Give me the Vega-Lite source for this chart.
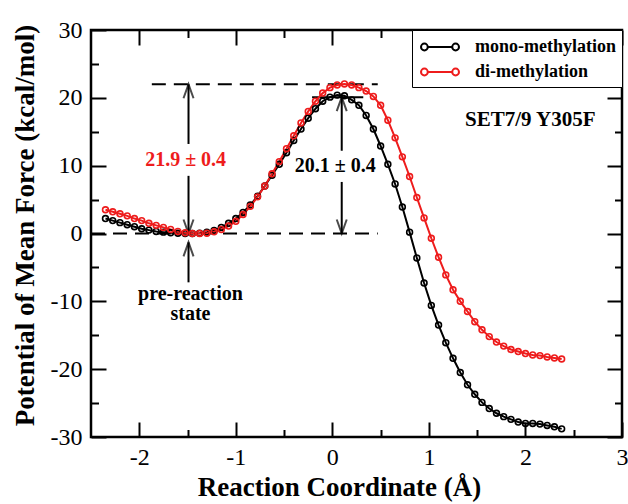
{
  "$schema": "https://vega.github.io/schema/vega-lite/v6.json",
  "width": 531,
  "height": 407,
  "autosize": {"type": "none"},
  "padding": {"left": 91, "top": 30, "right": 6, "bottom": 67},
  "config": {
    "view": {"stroke": "#000", "strokeWidth": 2.5},
    "font": "Liberation Serif",
    "axis": {"grid": false, "domain": false, "ticks": true, "tickColor": "#000", "tickWidth": 2, "labelFont": "Liberation Serif", "labelFontSize": 24, "labelColor": "#000", "titleFont": "Liberation Serif", "titleFontSize": 27, "titleFontWeight": "bold", "titleColor": "#000", "labelFlush": false, "labelOverlap": false}
  },
  "datasets": {
    "curves": [
      {"x": -2.35, "y": 2.2, "s": "mono-methylation"}, {"x": -2.275, "y": 1.9, "s": "mono-methylation"}, {"x": -2.2, "y": 1.6, "s": "mono-methylation"}, {"x": -2.125, "y": 1.3, "s": "mono-methylation"}, {"x": -2.05, "y": 1.0, "s": "mono-methylation"}, {"x": -1.975, "y": 0.7, "s": "mono-methylation"}, {"x": -1.9, "y": 0.5, "s": "mono-methylation"}, {"x": -1.825, "y": 0.3, "s": "mono-methylation"}, {"x": -1.75, "y": 0.2, "s": "mono-methylation"}, {"x": -1.675, "y": 0.1, "s": "mono-methylation"}, {"x": -1.6, "y": 0.05, "s": "mono-methylation"}, {"x": -1.525, "y": 0.0, "s": "mono-methylation"}, {"x": -1.45, "y": 0.0, "s": "mono-methylation"}, {"x": -1.375, "y": 0.05, "s": "mono-methylation"}, {"x": -1.3, "y": 0.2, "s": "mono-methylation"}, {"x": -1.225, "y": 0.45, "s": "mono-methylation"}, {"x": -1.15, "y": 0.9, "s": "mono-methylation"}, {"x": -1.075, "y": 1.5, "s": "mono-methylation"}, {"x": -1.0, "y": 2.2, "s": "mono-methylation"}, {"x": -0.925, "y": 3.1, "s": "mono-methylation"}, {"x": -0.85, "y": 4.2, "s": "mono-methylation"}, {"x": -0.775, "y": 5.5, "s": "mono-methylation"}, {"x": -0.7, "y": 7.0, "s": "mono-methylation"}, {"x": -0.625, "y": 8.6, "s": "mono-methylation"}, {"x": -0.55, "y": 10.2, "s": "mono-methylation"}, {"x": -0.475, "y": 11.9, "s": "mono-methylation"}, {"x": -0.4, "y": 13.7, "s": "mono-methylation"}, {"x": -0.325, "y": 15.4, "s": "mono-methylation"}, {"x": -0.25, "y": 17.0, "s": "mono-methylation"}, {"x": -0.175, "y": 18.4, "s": "mono-methylation"}, {"x": -0.1, "y": 19.5, "s": "mono-methylation"}, {"x": -0.025, "y": 20.1, "s": "mono-methylation"}, {"x": 0.05, "y": 20.4, "s": "mono-methylation"}, {"x": 0.125, "y": 20.3, "s": "mono-methylation"}, {"x": 0.2, "y": 19.7, "s": "mono-methylation"}, {"x": 0.275, "y": 18.9, "s": "mono-methylation"}, {"x": 0.35, "y": 17.4, "s": "mono-methylation"}, {"x": 0.425, "y": 15.4, "s": "mono-methylation"}, {"x": 0.5, "y": 12.9, "s": "mono-methylation"}, {"x": 0.575, "y": 10.2, "s": "mono-methylation"}, {"x": 0.65, "y": 7.3, "s": "mono-methylation"}, {"x": 0.725, "y": 3.9, "s": "mono-methylation"}, {"x": 0.8, "y": 0.2, "s": "mono-methylation"}, {"x": 0.875, "y": -3.6, "s": "mono-methylation"}, {"x": 0.95, "y": -7.3, "s": "mono-methylation"}, {"x": 1.025, "y": -10.6, "s": "mono-methylation"}, {"x": 1.1, "y": -13.5, "s": "mono-methylation"}, {"x": 1.175, "y": -16.1, "s": "mono-methylation"}, {"x": 1.25, "y": -18.4, "s": "mono-methylation"}, {"x": 1.325, "y": -20.5, "s": "mono-methylation"}, {"x": 1.4, "y": -22.3, "s": "mono-methylation"}, {"x": 1.475, "y": -23.7, "s": "mono-methylation"}, {"x": 1.55, "y": -24.9, "s": "mono-methylation"}, {"x": 1.625, "y": -25.8, "s": "mono-methylation"}, {"x": 1.7, "y": -26.5, "s": "mono-methylation"}, {"x": 1.775, "y": -27.0, "s": "mono-methylation"}, {"x": 1.85, "y": -27.4, "s": "mono-methylation"}, {"x": 1.925, "y": -27.8, "s": "mono-methylation"}, {"x": 2.0, "y": -28.0, "s": "mono-methylation"}, {"x": 2.075, "y": -28.0, "s": "mono-methylation"}, {"x": 2.15, "y": -28.1, "s": "mono-methylation"}, {"x": 2.225, "y": -28.3, "s": "mono-methylation"}, {"x": 2.3, "y": -28.5, "s": "mono-methylation"}, {"x": 2.375, "y": -28.8, "s": "mono-methylation"},
      {"x": -2.35, "y": 3.5, "s": "di-methylation"}, {"x": -2.275, "y": 3.2, "s": "di-methylation"}, {"x": -2.2, "y": 2.9, "s": "di-methylation"}, {"x": -2.125, "y": 2.6, "s": "di-methylation"}, {"x": -2.05, "y": 2.2, "s": "di-methylation"}, {"x": -1.975, "y": 1.9, "s": "di-methylation"}, {"x": -1.9, "y": 1.5, "s": "di-methylation"}, {"x": -1.825, "y": 1.2, "s": "di-methylation"}, {"x": -1.75, "y": 0.9, "s": "di-methylation"}, {"x": -1.675, "y": 0.6, "s": "di-methylation"}, {"x": -1.6, "y": 0.3, "s": "di-methylation"}, {"x": -1.525, "y": 0.1, "s": "di-methylation"}, {"x": -1.45, "y": 0.0, "s": "di-methylation"}, {"x": -1.375, "y": 0.0, "s": "di-methylation"}, {"x": -1.3, "y": 0.05, "s": "di-methylation"}, {"x": -1.225, "y": 0.25, "s": "di-methylation"}, {"x": -1.15, "y": 0.6, "s": "di-methylation"}, {"x": -1.075, "y": 1.1, "s": "di-methylation"}, {"x": -1.0, "y": 1.8, "s": "di-methylation"}, {"x": -0.925, "y": 2.8, "s": "di-methylation"}, {"x": -0.85, "y": 4.0, "s": "di-methylation"}, {"x": -0.775, "y": 5.4, "s": "di-methylation"}, {"x": -0.7, "y": 7.0, "s": "di-methylation"}, {"x": -0.625, "y": 8.8, "s": "di-methylation"}, {"x": -0.55, "y": 10.6, "s": "di-methylation"}, {"x": -0.475, "y": 12.5, "s": "di-methylation"}, {"x": -0.4, "y": 14.4, "s": "di-methylation"}, {"x": -0.325, "y": 16.3, "s": "di-methylation"}, {"x": -0.25, "y": 18.0, "s": "di-methylation"}, {"x": -0.175, "y": 19.5, "s": "di-methylation"}, {"x": -0.1, "y": 20.7, "s": "di-methylation"}, {"x": -0.025, "y": 21.5, "s": "di-methylation"}, {"x": 0.05, "y": 21.9, "s": "di-methylation"}, {"x": 0.125, "y": 22.05, "s": "di-methylation"}, {"x": 0.2, "y": 21.9, "s": "di-methylation"}, {"x": 0.275, "y": 21.5, "s": "di-methylation"}, {"x": 0.35, "y": 21.0, "s": "di-methylation"}, {"x": 0.425, "y": 20.2, "s": "di-methylation"}, {"x": 0.5, "y": 18.9, "s": "di-methylation"}, {"x": 0.575, "y": 16.7, "s": "di-methylation"}, {"x": 0.65, "y": 14.1, "s": "di-methylation"}, {"x": 0.725, "y": 11.3, "s": "di-methylation"}, {"x": 0.8, "y": 8.4, "s": "di-methylation"}, {"x": 0.875, "y": 5.3, "s": "di-methylation"}, {"x": 0.95, "y": 2.3, "s": "di-methylation"}, {"x": 1.025, "y": -0.7, "s": "di-methylation"}, {"x": 1.1, "y": -3.5, "s": "di-methylation"}, {"x": 1.175, "y": -6.1, "s": "di-methylation"}, {"x": 1.25, "y": -8.3, "s": "di-methylation"}, {"x": 1.325, "y": -10.0, "s": "di-methylation"}, {"x": 1.4, "y": -11.5, "s": "di-methylation"}, {"x": 1.475, "y": -13.0, "s": "di-methylation"}, {"x": 1.55, "y": -14.2, "s": "di-methylation"}, {"x": 1.625, "y": -15.2, "s": "di-methylation"}, {"x": 1.7, "y": -16.0, "s": "di-methylation"}, {"x": 1.775, "y": -16.6, "s": "di-methylation"}, {"x": 1.85, "y": -17.1, "s": "di-methylation"}, {"x": 1.925, "y": -17.4, "s": "di-methylation"}, {"x": 2.0, "y": -17.7, "s": "di-methylation"}, {"x": 2.075, "y": -17.9, "s": "di-methylation"}, {"x": 2.15, "y": -18.0, "s": "di-methylation"}, {"x": 2.225, "y": -18.2, "s": "di-methylation"}, {"x": 2.3, "y": -18.35, "s": "di-methylation"}, {"x": 2.375, "y": -18.5, "s": "di-methylation"}
    ],
    "dashed": [
      {"x": -2.5, "x2": 0.47, "y": 0},
      {"x": -1.87, "x2": 0.47, "y": 22}
    ],
    "solid": [
      {"x": -0.21, "x2": 0.32, "y": 20.1}
    ],
    "shafts": [
      {"x": -1.49, "y": 0, "y2": 8.5},
      {"x": -1.49, "y": 13.2, "y2": 22},
      {"x": 0.097, "y": 0, "y2": 7.6},
      {"x": 0.097, "y": 12.2, "y2": 20.1},
      {"x": -1.49, "y": -7.2, "y2": -1.3}
    ],
    "upheads": [
      {"x": -1.49, "y": 22},
      {"x": 0.097, "y": 20.1},
      {"x": -1.49, "y": -1.3}
    ],
    "downheads": [
      {"x": -1.49, "y": 0},
      {"x": 0.097, "y": 0}
    ],
    "redlabel": [{"x": -1.52, "y": 10.8, "t": "21.9 ± 0.4"}],
    "blacklabel": [{"x": 0.03, "y": 10.0, "t": "20.1 ± 0.4"}],
    "prelabel": [{"x": -1.47, "y": -8.9, "t": "pre-reaction\nstate"}],
    "setlabel": [{"x": 2.05, "y": 16.7, "t": "SET7/9 Y305F"}]
  },
  "resolve": {"axis": {"x": "independent", "y": "independent"}},
  "layer": [
    {
      "data": {"name": "dashed"},
      "mark": {"type": "rule", "color": "#000", "strokeWidth": 2, "strokeDash": [14, 8]},
      "encoding": {
        "x": {"field": "x", "type": "quantitative", "scale": {"domain": [-2.5, 3], "nice": false, "zero": false}, "axis": {"orient": "bottom", "values": [-1.5, -0.5, 0.5, 1.5, 2.5], "offset": -7.5, "tickSize": 7.5, "labels": false, "title": null}},
        "x2": {"field": "x2"},
        "y": {"field": "y", "type": "quantitative", "scale": {"domain": [-30, 30], "nice": false, "zero": false}, "axis": {"orient": "left", "values": [-25, -15, -5, 5, 15, 25], "offset": -7.5, "tickSize": 7.5, "labels": false, "title": null}}
      }
    },
    {
      "data": {"name": "solid"},
      "mark": {"type": "rule", "color": "#000", "strokeWidth": 2},
      "encoding": {
        "x": {"field": "x", "type": "quantitative", "scale": {"domain": [-2.5, 3], "nice": false, "zero": false}, "axis": {"orient": "top", "values": [-2, -1, 0, 1, 2, 3], "offset": -15, "tickSize": 15, "labels": false, "title": null}},
        "x2": {"field": "x2"},
        "y": {"field": "y", "type": "quantitative", "scale": {"domain": [-30, 30], "nice": false, "zero": false}, "axis": {"orient": "right", "values": [-30, -20, -10, 0, 10, 20, 30], "offset": -15, "tickSize": 15, "labels": false, "title": null}}
      }
    },
    {
      "data": {"name": "shafts"},
      "mark": {"type": "rule", "color": "#000", "strokeWidth": 2},
      "encoding": {
        "x": {"field": "x", "type": "quantitative", "scale": {"domain": [-2.5, 3], "nice": false, "zero": false}, "axis": {"orient": "top", "values": [-1.5, -0.5, 0.5, 1.5, 2.5], "offset": -7.5, "tickSize": 7.5, "labels": false, "title": null}},
        "y": {"field": "y", "type": "quantitative", "scale": {"domain": [-30, 30], "nice": false, "zero": false}, "axis": {"orient": "right", "values": [-25, -15, -5, 5, 15, 25], "offset": -7.5, "tickSize": 7.5, "labels": false, "title": null}},
        "y2": {"field": "y2"}
      }
    },
    {
      "data": {"name": "upheads"},
      "mark": {"type": "point", "shape": "M-0.5,1.4L0,0L0.5,1.4", "size": 400, "filled": false, "color": "#000", "strokeWidth": 2},
      "encoding": {
        "x": {"field": "x", "type": "quantitative", "scale": {"domain": [-2.5, 3], "nice": false, "zero": false}, "axis": null},
        "y": {"field": "y", "type": "quantitative", "scale": {"domain": [-30, 30], "nice": false, "zero": false}, "axis": null}
      }
    },
    {
      "data": {"name": "downheads"},
      "mark": {"type": "point", "shape": "M-0.5,-1.4L0,0L0.5,-1.4", "size": 400, "filled": false, "color": "#000", "strokeWidth": 2},
      "encoding": {
        "x": {"field": "x", "type": "quantitative", "scale": {"domain": [-2.5, 3], "nice": false, "zero": false}, "axis": null},
        "y": {"field": "y", "type": "quantitative", "scale": {"domain": [-30, 30], "nice": false, "zero": false}, "axis": null}
      }
    },
    {
      "data": {"name": "curves"},
      "mark": {"type": "line", "strokeWidth": 2, "point": {"filled": false, "size": 34, "strokeWidth": 1.6}},
      "encoding": {
        "x": {"field": "x", "type": "quantitative", "scale": {"domain": [-2.5, 3], "nice": false, "zero": false}, "axis": {"orient": "bottom", "values": [-2, -1, 0, 1, 2, 3], "offset": -15, "tickSize": 15, "labelPadding": 8, "labelExpr": "'' + datum.value", "title": "Reaction Coordinate (Å)", "titleX": 248, "titleY": 73, "titleAlign": "center", "titleBaseline": "alphabetic"}},
        "y": {"field": "y", "type": "quantitative", "scale": {"domain": [-30, 30], "nice": false, "zero": false}, "axis": {"orient": "left", "values": [-30, -20, -10, 0, 10, 20, 30], "offset": -15, "tickSize": 15, "labelPadding": 9, "labelExpr": "'' + datum.value", "title": "Potential of Mean Force (kcal/mol)", "titleX": -81, "titleY": 195, "titleAlign": "center", "titleBaseline": "middle", "titleAngle": -90}},
        "color": {
          "field": "s", "type": "nominal",
          "scale": {"domain": ["mono-methylation", "di-methylation"], "range": ["#000000", "#ee1c1c"]},
          "legend": {"title": null, "orient": "top-right", "offset": 0, "padding": 6, "strokeColor": "#000", "fillColor": "#fff", "labelFont": "Liberation Serif", "labelFontSize": 18, "labelFontWeight": "bold", "labelColor": "#000", "symbolType": "M-1.9,0A0.34,0.34 0 1,1 -1.22,0A0.34,0.34 0 1,1 -1.9,0M-1.22,0L1.22,0M1.22,0A0.34,0.34 0 1,1 1.9,0A0.34,0.34 0 1,1 1.22,0", "symbolSize": 400, "symbolStrokeWidth": 2, "symbolFillColor": "#fff", "symbolOffset": 11, "labelOffset": 24, "rowPadding": 5}
        }
      }
    },
    {
      "data": {"name": "redlabel"},
      "mark": {"type": "text", "font": "Liberation Serif", "fontSize": 20, "fontWeight": "bold", "color": "#ee1c1c", "align": "center", "baseline": "middle"},
      "encoding": {
        "x": {"field": "x", "type": "quantitative", "scale": {"domain": [-2.5, 3], "nice": false, "zero": false}, "axis": null},
        "y": {"field": "y", "type": "quantitative", "scale": {"domain": [-30, 30], "nice": false, "zero": false}, "axis": null},
        "text": {"field": "t"}
      }
    },
    {
      "data": {"name": "blacklabel"},
      "mark": {"type": "text", "font": "Liberation Serif", "fontSize": 20, "fontWeight": "bold", "color": "#000", "align": "center", "baseline": "middle"},
      "encoding": {
        "x": {"field": "x", "type": "quantitative", "scale": {"domain": [-2.5, 3], "nice": false, "zero": false}, "axis": null},
        "y": {"field": "y", "type": "quantitative", "scale": {"domain": [-30, 30], "nice": false, "zero": false}, "axis": null},
        "text": {"field": "t"}
      }
    },
    {
      "data": {"name": "prelabel"},
      "mark": {"type": "text", "font": "Liberation Serif", "fontSize": 20, "fontWeight": "bold", "color": "#000", "align": "center", "baseline": "middle", "lineBreak": "\n", "lineHeight": 20},
      "encoding": {
        "x": {"field": "x", "type": "quantitative", "scale": {"domain": [-2.5, 3], "nice": false, "zero": false}, "axis": null},
        "y": {"field": "y", "type": "quantitative", "scale": {"domain": [-30, 30], "nice": false, "zero": false}, "axis": null},
        "text": {"field": "t"}
      }
    },
    {
      "data": {"name": "setlabel"},
      "mark": {"type": "text", "font": "Liberation Serif", "fontSize": 21, "fontWeight": "bold", "color": "#000", "align": "center", "baseline": "middle"},
      "encoding": {
        "x": {"field": "x", "type": "quantitative", "scale": {"domain": [-2.5, 3], "nice": false, "zero": false}, "axis": null},
        "y": {"field": "y", "type": "quantitative", "scale": {"domain": [-30, 30], "nice": false, "zero": false}, "axis": null},
        "text": {"field": "t"}
      }
    }
  ]
}
